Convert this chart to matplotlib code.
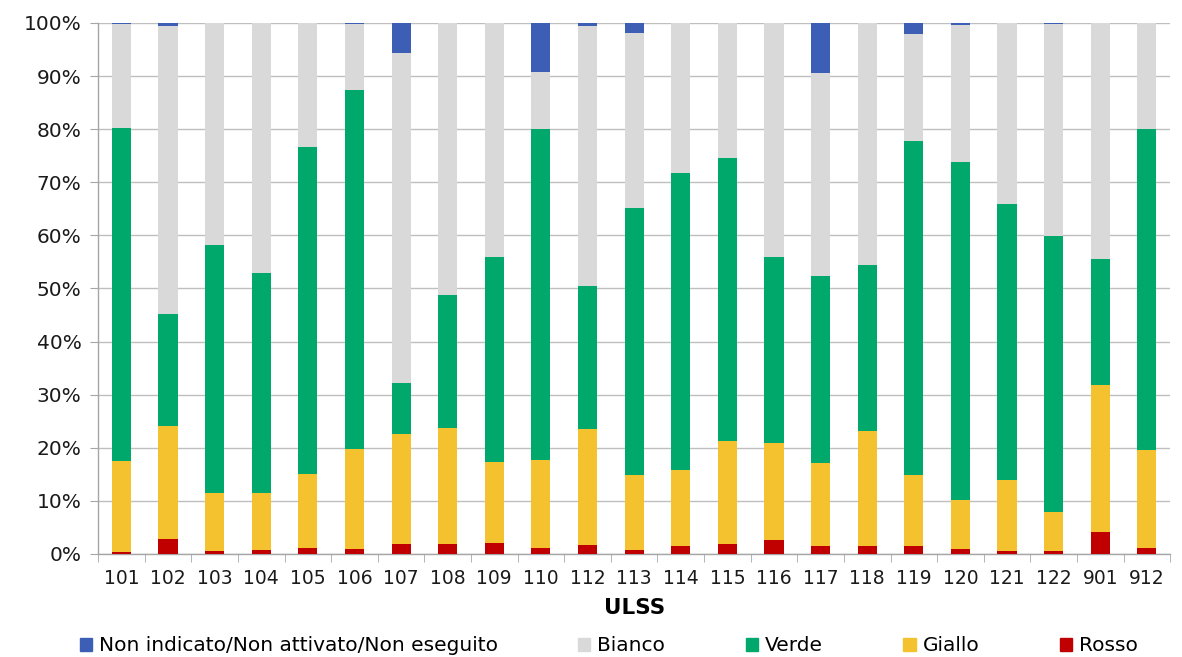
import numpy as np
import matplotlib
matplotlib.use("Agg")
import matplotlib.pyplot as plt
from matplotlib.ticker import PercentFormatter, FixedLocator

ULSS = ["101", "102", "103", "104", "105", "106", "107", "108", "109", "110", "112",
        "113", "114", "115", "116", "117", "118", "119", "120", "121", "122", "901", "912"]

# cumulative tops (%)
rosso_top = [0.4, 2.8, 0.6, 0.8, 1.1, 0.9, 1.8, 1.9, 2.1, 1.1, 1.7,
             0.8, 1.4, 1.8, 2.6, 1.45, 1.45, 1.45, 0.9, 0.6, 0.45, 4.2, 1.1]
giallo_top = [17.5, 24.0, 11.5, 11.4, 15.1, 19.7, 22.5, 23.7, 17.3, 17.7, 23.5,
              14.8, 15.8, 21.3, 20.8, 17.2, 23.1, 14.9, 10.1, 13.9, 7.9, 31.8, 19.5]
verde_top = [80.2, 45.2, 58.2, 52.9, 76.6, 87.4, 32.2, 48.8, 55.9, 80.0, 50.5,
             65.2, 71.8, 74.6, 55.9, 52.3, 54.4, 77.7, 73.8, 65.9, 59.9, 55.6, 80.1]
non_indicato = [0.2, 0.6, 0.0, 0.0, 0.0, 0.1, 5.7, 0.0, 0.0, 9.2, 0.6,
                1.9, 0.0, 0.0, 0.0, 9.4, 0.0, 2.1, 0.4, 0.0, 0.1, 0.0, 0.0]

rosso = np.array(rosso_top)
giallo = np.array(giallo_top) - rosso
verde = np.array(verde_top) - np.array(giallo_top)
blu = np.array(non_indicato)
bianco = 100 - np.array(verde_top) - blu

COLORS = {
    "Non indicato/Non attivato/Non eseguito": "#3C5EB4",
    "Bianco": "#D9D9D9",
    "Verde": "#00A86B",
    "Giallo": "#F4C22F",
    "Rosso": "#C00000",
}

fig = plt.figure(figsize=(11.82, 6.57), dpi=100)
ax = fig.add_axes([0.083, 0.157, 0.907, 0.808])

x = np.arange(len(ULSS))
w = 0.41
ax.bar(x, rosso, w, color=COLORS["Rosso"], zorder=3)
ax.bar(x, giallo, w, bottom=rosso, color=COLORS["Giallo"], zorder=3)
ax.bar(x, verde, w, bottom=rosso + giallo, color=COLORS["Verde"], zorder=3)
ax.bar(x, bianco, w, bottom=rosso + giallo + verde, color=COLORS["Bianco"], zorder=3)
ax.bar(x, blu, w, bottom=rosso + giallo + verde + bianco,
       color=COLORS["Non indicato/Non attivato/Non eseguito"], zorder=3)

ax.set_xlim(-0.5, len(ULSS) - 0.5)
ax.set_ylim(0, 100)
ax.set_yticks(np.arange(0, 101, 10))
ax.yaxis.set_major_formatter(PercentFormatter(decimals=0))
ax.grid(axis="y", color="#BFBFBF", linewidth=1.0, zorder=0)

ax.set_xticks(x)
ax.set_xticklabels(ULSS)
ax.xaxis.set_minor_locator(FixedLocator(np.arange(-0.5, len(ULSS), 1)))
ax.tick_params(axis="x", which="major", length=0, labelsize=13.5, pad=11, colors="#1A1A1A")
ax.tick_params(axis="x", which="minor", length=6, color="#A6A6A6", direction="out")
ax.tick_params(axis="y", length=6, color="#A6A6A6", labelsize=14.5, pad=6,
               labelcolor="#1A1A1A")

for side in ["top", "right"]:
    ax.spines[side].set_visible(False)
for side in ["left", "bottom"]:
    ax.spines[side].set_color("#A6A6A6")
    ax.spines[side].set_linewidth(1.0)

ax.set_xlabel("ULSS", fontsize=15.5, fontweight="bold", labelpad=7)

handles = [plt.Rectangle((0, 0), 1, 1, color=c) for c in COLORS.values()]
fig.legend(handles, list(COLORS.keys()), loc="lower center", ncol=5, frameon=False,
           fontsize=14.5, handlelength=0.6, handleheight=0.6, handletextpad=0.35,
           columnspacing=4.0, bbox_to_anchor=(0.515, -0.025))

fig.savefig("out.png", dpi=100)
